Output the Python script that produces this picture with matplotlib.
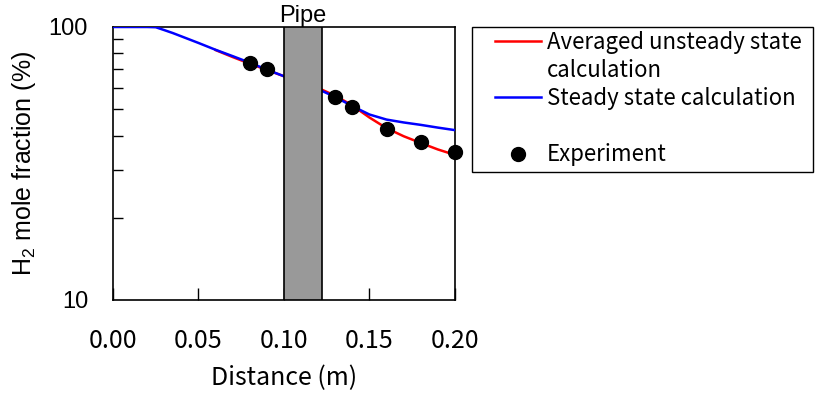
import matplotlib
matplotlib.use('Agg')
import matplotlib.pyplot as plt
from matplotlib.lines import Line2D
from matplotlib.patches import Rectangle
from matplotlib.ticker import FixedLocator, NullFormatter

# data
steady_x = [0.0, 0.01, 0.02, 0.025, 0.03, 0.035, 0.04, 0.05, 0.06, 0.07, 0.08, 0.09, 0.1]
steady_y = [100, 100, 100, 99.8, 97.4, 95.0, 92.4, 87.4, 82.5, 78.2, 74.0, 69.8, 66.0]
steady_x2 = [0.122, 0.13, 0.14, 0.15, 0.16, 0.17, 0.18, 0.19, 0.2]
steady_y2 = [58.4, 55.4, 51.3, 47.8, 45.8, 44.7, 43.8, 42.8, 41.9]

avg_x = [0.06, 0.07, 0.08, 0.09, 0.1]
avg_y = [82.3, 77.6, 73.4, 69.6, 66.0]
avg_x2 = [0.122, 0.13, 0.14, 0.15, 0.16, 0.17, 0.18, 0.19, 0.2]
avg_y2 = [59.0, 56.0, 51.6, 46.6, 42.6, 39.8, 37.6, 35.6, 34.0]

exp_x = [0.08, 0.09, 0.13, 0.14, 0.16, 0.18, 0.2]
exp_y = [73.6, 70.2, 55.3, 51.1, 42.2, 37.9, 34.7]

pipe_start, pipe_end = 0.1, 0.122

plt.rcParams['mathtext.fontset'] = 'custom'
plt.rcParams['mathtext.rm'] = 'Liberation Sans'
jp = ['Noto Sans CJK JP', 'DejaVu Sans']
arial = 'Liberation Sans'

fig = plt.figure(figsize=(8.16, 4.01), dpi=100)
ax = fig.add_axes((0.1385, 0.2519, 0.419, 0.6808))

ax.plot(avg_x, avg_y, color='#ff0000', lw=1.8, zorder=2)
ax.plot(avg_x2, avg_y2, color='#ff0000', lw=1.8, zorder=2)
ax.plot(steady_x, steady_y, color='#0000ff', lw=1.8, zorder=3)
ax.plot(steady_x2, steady_y2, color='#0000ff', lw=1.8, zorder=3)
ax.plot(exp_x, exp_y, 'o', color='black', ms=10, zorder=4, clip_on=False)
ax.axvspan(pipe_start, pipe_end, facecolor='#999999', edgecolor='black', lw=1.2, zorder=5)
ax.text((pipe_start + pipe_end) / 2, 1.0, 'Pipe', transform=ax.get_xaxis_transform(),
        ha='center', va='bottom', fontsize=17, family=arial)

ax.set_yscale('log')
ax.set_xlim(0, 0.2)
ax.set_ylim(10, 100)
ax.set_xticks([0, 0.05, 0.1, 0.15, 0.2])
ax.set_xticklabels(['0.00', '0.05', '0.10', '0.15', '0.20'], family=jp, fontsize=18)
ax.yaxis.set_major_locator(FixedLocator([10, 100]))
ax.set_yticklabels(['10', '100'], family=arial, fontsize=17)
ax.yaxis.set_minor_formatter(NullFormatter())
ax.tick_params(axis='both', which='both', direction='in', top=False, right=False)
ax.tick_params(axis='x', which='major', length=9, width=1, pad=20)
ax.tick_params(axis='y', which='major', length=0, pad=18)
ax.tick_params(axis='y', which='minor', length=7, width=1)
for s in ax.spines.values():
    s.set_linewidth(1.2)

ax.set_xlabel('Distance (m)', family=jp, fontsize=18, labelpad=8)
ax.set_ylabel(r'H$_2$ mole fraction (%)', family=arial, fontsize=18, labelpad=8)

handles = [Line2D([], [], color='#ff0000', lw=1.8),
           Line2D([], [], linestyle='none'),
           Line2D([], [], color='#0000ff', lw=1.8),
           Line2D([], [], linestyle='none'),
           Line2D([], [], marker='o', color='black', ms=10, linestyle='none')]
labels = ['Averaged unsteady state', 'calculation', 'Steady state calculation', ' ', 'Experiment']
leg = fig.legend(handles, labels, loc='upper left', bbox_to_anchor=(495 / 816, 1 - 31 / 401),
                 prop={'family': jp, 'size': 16}, frameon=False,
                 handlelength=2.05, handletextpad=0.3,
                 labelspacing=0.23, borderpad=0, borderaxespad=0)
fig.patches.append(Rectangle((472 / 816, 1 - 172 / 401), (813 - 472) / 816, (172 - 27) / 401,
                             transform=fig.transFigure, fill=False, edgecolor='black', lw=1.0))

fig.savefig('out.png', dpi=100)
